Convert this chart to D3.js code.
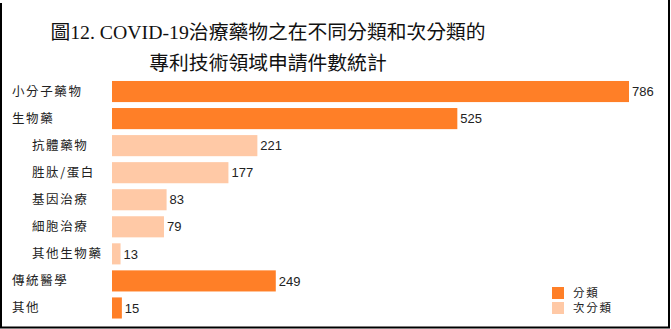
<!DOCTYPE html>
<html>
<head>
<meta charset="utf-8">
<script src="https://cdn.jsdelivr.net/npm/d3@7/dist/d3.min.js"></script>
<style>
  html, body { margin: 0; padding: 0; background: #fff; }
  svg { display: block; }
</style>
</head>
<body>
<svg id="chart" width="671" height="329"></svg>
<script>
// Patent application counts by category / sub-category
const categories = ["小分子藥物", "生物藥", "抗體藥物", "胜肽/蛋白", "基因治療", "細胞治療", "其他生物藥", "傳統醫學", "其他"];
const counts     = [786, 525, 221, 177, 83, 79, 13, 249, 15];
const levels     = ["分類", "分類", "次分類", "次分類", "次分類", "次分類", "次分類", "分類", "分類"];
const legendKeys = ["分類", "次分類"];
const titleLines = ["圖12. COVID-19治療藥物之在不同分類和次分類的", "專利技術領域申請件數統計"];

const colors = { "分類": "#ff7f27", "次分類": "#ffc9a6" };

const svg = d3.select("#chart");
const cjk = "'Noto Sans CJK TC', 'Noto Sans CJK SC', sans-serif";

// frame
svg.append("path")
  .attr("d", "M1,3 V327.5 H669 V0")
  .attr("fill", "none").attr("stroke", "#000").attr("stroke-width", 2);

// title
svg.append("g").selectAll("text").data(titleLines).join("text")
  .attr("x", 268).attr("y", (d, i) => 39 + i * 31)
  .attr("text-anchor", "middle")
  .attr("font-family", "'Liberation Serif', " + cjk)
  .attr("font-size", 19.8).attr("fill", "#111")
  .text(d => d);

const data = categories.map((c, i) => ({ name: c, value: counts[i], level: levels[i] }));

const x = d3.scaleLinear().domain([0, 786]).range([112, 629]);
const y = d3.scaleBand().domain(categories).range([78, 321.5]).paddingInner(0.22).paddingOuter(0.11);

// bars
svg.append("g").selectAll("rect").data(data).join("rect")
  .attr("x", x(0))
  .attr("y", d => y(d.name))
  .attr("width", d => x(d.value) - x(0))
  .attr("height", y.bandwidth())
  .attr("fill", d => colors[d.level]);

// value labels
svg.append("g").selectAll("text").data(data).join("text")
  .attr("x", d => x(d.value) + 3)
  .attr("y", d => y(d.name) + y.bandwidth() / 2)
  .attr("dy", "0.36em")
  .attr("font-family", "'Liberation Sans', Arial, sans-serif")
  .attr("font-size", 13).attr("fill", "#222")
  .text(d => d.value);

// category labels (sub-categories indented)
svg.append("g").selectAll("text").data(data).join("text")
  .attr("x", d => d.level === "次分類" ? 32 : 12)
  .attr("y", d => y(d.name) + y.bandwidth() / 2)
  .attr("dy", "0.36em")
  .attr("font-family", cjk)
  .attr("font-size", 12.5).attr("letter-spacing", "1.6px").attr("fill", "#222")
  .text(d => d.name);

// legend
const lg = svg.append("g").selectAll("g").data(legendKeys).join("g")
  .attr("transform", (d, i) => `translate(552, ${287 + i * 15})`);
lg.append("rect").attr("width", 12).attr("height", 12).attr("fill", d => colors[d]);
lg.append("text").attr("x", 21).attr("y", 6).attr("dy", "0.36em")
  .attr("font-family", cjk).attr("font-size", 11.5).attr("letter-spacing", "1.8px").attr("fill", "#222")
  .text(d => d);
</script>
</body>
</html>
